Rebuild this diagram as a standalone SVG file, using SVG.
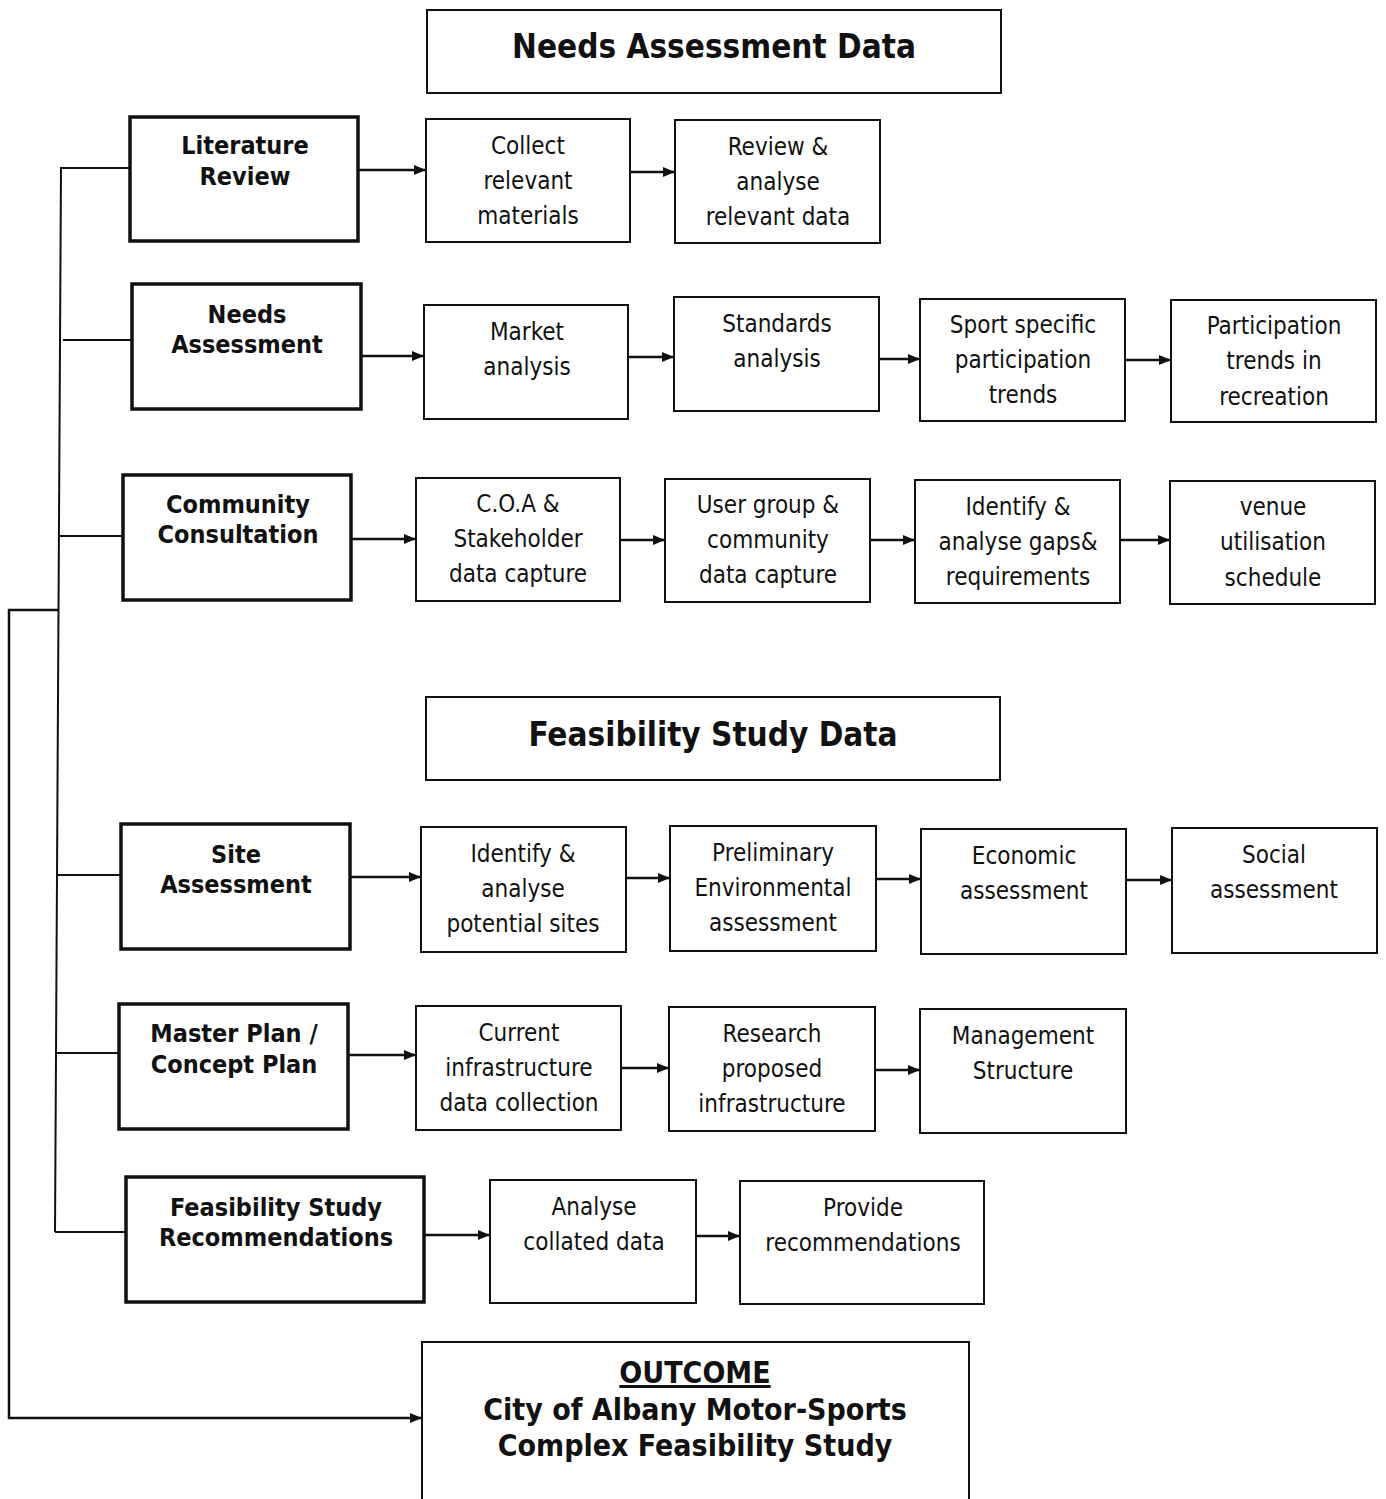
<svg xmlns="http://www.w3.org/2000/svg" width="1386" height="1499" viewBox="0 0 1386 1499">
<style>
.bg{fill:#fff}
.box{fill:#fff;stroke:#111;stroke-width:2}
.hbox{fill:#fff;stroke:#111;stroke-width:3.5}
.t{font-family:"DejaVu Sans Condensed","DejaVu Sans",sans-serif;font-size:24px;fill:#111;text-anchor:middle}
.h{font-family:"DejaVu Sans Condensed","DejaVu Sans",sans-serif;font-size:25px;font-weight:bold;fill:#111;text-anchor:middle}
.title{font-family:"DejaVu Sans Condensed","DejaVu Sans",sans-serif;font-size:33px;font-weight:bold;fill:#111;text-anchor:middle}
.out{font-family:"DejaVu Sans Condensed","DejaVu Sans",sans-serif;font-size:30px;font-weight:bold;fill:#111;text-anchor:middle}
.c{fill:none;stroke:#111;stroke-width:2}
.a{fill:none;stroke:#111;stroke-width:2.5;marker-end:url(#arr)}
</style>
<defs>
<marker id="arr" viewBox="0 0 12 10" refX="11" refY="5" markerWidth="12" markerHeight="10" markerUnits="userSpaceOnUse" orient="auto">
<path d="M0,0 L12,5 L0,10 Z" fill="#111"/>
</marker>
</defs>
<rect class="bg" x="0" y="0" width="1386" height="1499"/>

<g id="connectors">
<path class="c" d="M61,167 L55,1232"/>
<path class="c" d="M61,168 H130"/>
<path class="c" d="M63,340 H132"/>
<path class="c" d="M60,536 H123"/>
<path class="c" d="M58,875 H121"/>
<path class="c" d="M57,1053 H119"/>
<path class="c" d="M55,1232 H126"/>
<path class="a" d="M59,610 H9 V1418 H421"/>
<path class="a" d="M358,170 H425"/>
<path class="a" d="M630,172 H674"/>
<path class="a" d="M361,356 H423"/>
<path class="a" d="M628,357 H673"/>
<path class="a" d="M879,359 H919"/>
<path class="a" d="M1125,360 H1170"/>
<path class="a" d="M351,539 H415"/>
<path class="a" d="M620,540 H664"/>
<path class="a" d="M870,540 H914"/>
<path class="a" d="M1120,540 H1169"/>
<path class="a" d="M350,877 H420"/>
<path class="a" d="M626,878 H669"/>
<path class="a" d="M876,879 H920"/>
<path class="a" d="M1126,880 H1171"/>
<path class="a" d="M348,1055 H415"/>
<path class="a" d="M621,1068 H668"/>
<path class="a" d="M875,1070 H919"/>
<path class="a" d="M424,1235 H489"/>
<path class="a" d="M696,1236 H739"/>
</g>

<g id="title-needs">
<rect class="box" x="427" y="10" width="574" height="83"/>
<text class="title" x="714" y="58">Needs Assessment Data</text>
</g>

<g id="literature-review">
<rect class="hbox" x="130" y="117" width="228" height="124"/>
<text class="h" x="245" y="154">Literature</text>
<text class="h" x="245" y="185">Review</text>
</g>
<g id="collect-materials">
<rect class="box" x="426" y="119" width="204" height="123"/>
<text class="t" x="528" y="154">Collect</text>
<text class="t" x="528" y="189">relevant</text>
<text class="t" x="528" y="224">materials</text>
</g>
<g id="review-analyse">
<rect class="box" x="675" y="120" width="205" height="123"/>
<text class="t" x="778" y="155">Review &amp;</text>
<text class="t" x="778" y="190">analyse</text>
<text class="t" x="778" y="225">relevant data</text>
</g>

<g id="needs-assessment">
<rect class="hbox" x="132" y="284" width="229" height="125"/>
<text class="h" x="247" y="323">Needs</text>
<text class="h" x="247" y="353">Assessment</text>
</g>
<g id="market-analysis">
<rect class="box" x="424" y="305" width="204" height="114"/>
<text class="t" x="527" y="340">Market</text>
<text class="t" x="527" y="375">analysis</text>
</g>
<g id="standards-analysis">
<rect class="box" x="674" y="297" width="205" height="114"/>
<text class="t" x="777" y="332">Standards</text>
<text class="t" x="777" y="367">analysis</text>
</g>
<g id="sport-specific">
<rect class="box" x="920" y="299" width="205" height="122"/>
<text class="t" x="1023" y="333">Sport specific</text>
<text class="t" x="1023" y="368">participation</text>
<text class="t" x="1023" y="403">trends</text>
</g>
<g id="participation-trends">
<rect class="box" x="1171" y="300" width="205" height="122"/>
<text class="t" x="1274" y="334">Participation</text>
<text class="t" x="1274" y="369">trends in</text>
<text class="t" x="1274" y="405">recreation</text>
</g>

<g id="community-consultation">
<rect class="hbox" x="123" y="475" width="228" height="125"/>
<text class="h" x="238" y="513">Community</text>
<text class="h" x="238" y="543">Consultation</text>
</g>
<g id="coa-stakeholder">
<rect class="box" x="416" y="478" width="204" height="123"/>
<text class="t" x="518" y="512">C.O.A &amp;</text>
<text class="t" x="518" y="547">Stakeholder</text>
<text class="t" x="518" y="582">data capture</text>
</g>
<g id="user-group">
<rect class="box" x="665" y="479" width="205" height="123"/>
<text class="t" x="768" y="513">User group &amp;</text>
<text class="t" x="768" y="548">community</text>
<text class="t" x="768" y="583">data capture</text>
</g>
<g id="identify-gaps">
<rect class="box" x="915" y="480" width="205" height="123"/>
<text class="t" x="1018" y="515">Identify &amp;</text>
<text class="t" x="1018" y="550">analyse gaps&amp;</text>
<text class="t" x="1018" y="585">requirements</text>
</g>
<g id="venue-utilisation">
<rect class="box" x="1170" y="481" width="205" height="123"/>
<text class="t" x="1273" y="515">venue</text>
<text class="t" x="1273" y="550">utilisation</text>
<text class="t" x="1273" y="586">schedule</text>
</g>

<g id="title-feasibility">
<rect class="box" x="426" y="697" width="574" height="83"/>
<text class="title" x="713" y="746">Feasibility Study Data</text>
</g>

<g id="site-assessment">
<rect class="hbox" x="121" y="824" width="229" height="125"/>
<text class="h" x="236" y="863">Site</text>
<text class="h" x="236" y="893">Assessment</text>
</g>
<g id="identify-sites">
<rect class="box" x="421" y="827" width="205" height="125"/>
<text class="t" x="523" y="862">Identify &amp;</text>
<text class="t" x="523" y="897">analyse</text>
<text class="t" x="523" y="932">potential sites</text>
</g>
<g id="preliminary-environmental">
<rect class="box" x="670" y="826" width="206" height="125"/>
<text class="t" x="773" y="861">Preliminary</text>
<text class="t" x="773" y="896">Environmental</text>
<text class="t" x="773" y="931">assessment</text>
</g>
<g id="economic-assessment">
<rect class="box" x="921" y="829" width="205" height="125"/>
<text class="t" x="1024" y="864">Economic</text>
<text class="t" x="1024" y="899">assessment</text>
</g>
<g id="social-assessment">
<rect class="box" x="1172" y="828" width="205" height="125"/>
<text class="t" x="1274" y="863">Social</text>
<text class="t" x="1274" y="898">assessment</text>
</g>

<g id="master-plan">
<rect class="hbox" x="119" y="1004" width="229" height="125"/>
<text class="h" x="234" y="1042">Master Plan /</text>
<text class="h" x="234" y="1073">Concept Plan</text>
</g>
<g id="current-infrastructure">
<rect class="box" x="416" y="1006" width="205" height="124"/>
<text class="t" x="519" y="1041">Current</text>
<text class="t" x="519" y="1076">infrastructure</text>
<text class="t" x="519" y="1111">data collection</text>
</g>
<g id="research-infrastructure">
<rect class="box" x="669" y="1007" width="206" height="124"/>
<text class="t" x="772" y="1042">Research</text>
<text class="t" x="772" y="1077">proposed</text>
<text class="t" x="772" y="1112">infrastructure</text>
</g>
<g id="management-structure">
<rect class="box" x="920" y="1009" width="206" height="124"/>
<text class="t" x="1023" y="1044">Management</text>
<text class="t" x="1023" y="1079">Structure</text>
</g>

<g id="feasibility-recommendations">
<rect class="hbox" x="126" y="1177" width="298" height="125"/>
<text class="h" x="276" y="1216">Feasibility Study</text>
<text class="h" x="276" y="1246">Recommendations</text>
</g>
<g id="analyse-data">
<rect class="box" x="490" y="1180" width="206" height="123"/>
<text class="t" x="594" y="1215">Analyse</text>
<text class="t" x="594" y="1250">collated data</text>
</g>
<g id="provide-recommendations">
<rect class="box" x="740" y="1181" width="244" height="123"/>
<text class="t" x="863" y="1216">Provide</text>
<text class="t" x="863" y="1251">recommendations</text>
</g>

<g id="outcome">
<path class="box" d="M422,1500 V1342 H969 V1500"/>
<text class="out" x="695" y="1383" text-decoration="underline">OUTCOME</text>
<text class="out" x="695" y="1420">City of Albany Motor-Sports</text>
<text class="out" x="695" y="1456">Complex Feasibility Study</text>
</g>
</svg>
